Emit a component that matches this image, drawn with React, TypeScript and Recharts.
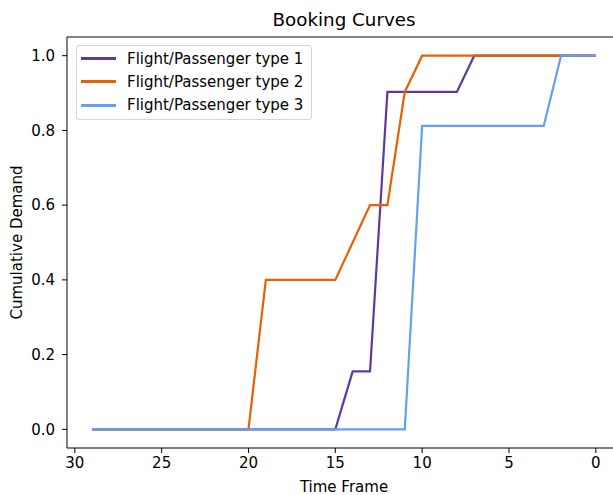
import { Legend, Line, LineChart, ReferenceLine, XAxis, YAxis } from "recharts";

const timeFrame = [29, 28, 27, 26, 25, 24, 23, 22, 21, 20, 19, 18, 17, 16, 15, 14, 13, 12, 11, 10, 9, 8, 7, 6, 5, 4, 3, 2, 1, 0];

const type1 = [0, 0, 0, 0, 0, 0, 0, 0, 0, 0, 0, 0, 0, 0, 0, 0.155, 0.155, 0.903, 0.903, 0.903, 0.903, 0.903, 1, 1, 1, 1, 1, 1, 1, 1];
const type2 = [0, 0, 0, 0, 0, 0, 0, 0, 0, 0, 0.4, 0.4, 0.4, 0.4, 0.4, 0.5, 0.6, 0.6, 0.903, 1, 1, 1, 1, 1, 1, 1, 1, 1, 1, 1];
const type3 = [0, 0, 0, 0, 0, 0, 0, 0, 0, 0, 0, 0, 0, 0, 0, 0, 0, 0, 0, 0.812, 0.812, 0.812, 0.812, 0.812, 0.812, 0.812, 0.812, 1, 1, 1];

const xTicks = [30, 25, 20, 15, 10, 5, 0];
const yTicks = [0, 0.2, 0.4, 0.6, 0.8, 1.0];

const seriesNames = ["Flight/Passenger type 1", "Flight/Passenger type 2", "Flight/Passenger type 3"];
const seriesColors = ["#5D3A9B", "#E66100", "#64A0F0"];

const data = timeFrame.map((t, i) => ({
  t,
  s1: type1[i],
  s2: type2[i],
  s3: type3[i],
}));

const font = "'DejaVu Sans', sans-serif";

function LegendBox() {
  return (
    <div
      style={{
        width: 234,
        height: 72,
        border: "1px solid #d6d6d6",
        borderRadius: 3,
        background: "rgba(255,255,255,0.8)",
        fontFamily: font,
        fontSize: 15,
        color: "#000",
        paddingTop: 1,
        boxSizing: "content-box",
      }}
    >
      {seriesNames.map((name, i) => (
        <div key={name} style={{ display: "flex", alignItems: "center", height: 23.3 }}>
          <div style={{ width: 35, height: 3, background: seriesColors[i], marginLeft: 4, marginRight: 11 }} />
          <span style={{ whiteSpace: "nowrap" }}>{name}</span>
        </div>
      ))}
    </div>
  );
}

export default function App() {
  return (
    <div style={{ width: 613, height: 495, overflow: "hidden", position: "relative", background: "#fff" }}>
      <style>{"body{margin:0;overflow:hidden}"}</style>
      <div
        style={{
          position: "absolute",
          top: 9,
          left: 0,
          width: 688,
          textAlign: "center",
          fontFamily: font,
          fontSize: 18.3,
          color: "#000",
        }}
      >
        Booking Curves
      </div>
      <LineChart width={613} height={495} data={data} margin={{ top: 37, right: -8, left: 0, bottom: 0 }}>
        <XAxis
          dataKey="t"
          type="number"
          domain={[-1.45, 30.45]}
          reversed
          ticks={xTicks}
          allowDataOverflow
          height={47}
          stroke="#000"
          tickSize={5}
          tickMargin={4}
          tick={{ fill: "#000", fontSize: 15, fontFamily: font }}
          label={{ value: "Time Frame", position: "insideBottom", offset: 3, fill: "#000", fontSize: 15, fontFamily: font }}
        />
        <YAxis
          type="number"
          domain={[-0.05, 1.05]}
          ticks={yTicks}
          allowDataOverflow
          width={67}
          stroke="#000"
          axisLine={false}
          tickSize={5}
          tickMargin={7}
          tickFormatter={(v: number) => v.toFixed(1)}
          tick={{ fill: "#000", fontSize: 15, fontFamily: font }}
          label={{
            value: "Cumulative Demand",
            angle: -90,
            position: "insideLeft",
            offset: 0,
            dx: 17,
            style: { textAnchor: "middle" },
            fill: "#000",
            fontSize: 15,
            fontFamily: font,
          }}
        />
        <ReferenceLine y={1.05} stroke="#000" ifOverflow="visible" />
        <ReferenceLine x={30.45} stroke="#000" ifOverflow="visible" />
        <Line dataKey="s1" name={seriesNames[0]} stroke={seriesColors[0]} strokeWidth={2.2} dot={false} isAnimationActive={false} />
        <Line dataKey="s2" name={seriesNames[1]} stroke={seriesColors[1]} strokeWidth={2.2} dot={false} isAnimationActive={false} />
        <Line dataKey="s3" name={seriesNames[2]} stroke={seriesColors[2]} strokeWidth={2.2} dot={false} isAnimationActive={false} />
        <Legend
          layout="vertical"
          align="center"
          verticalAlign="middle"
          wrapperStyle={{ top: 45, left: 76, width: "auto" }}
          content={() => <LegendBox />}
        />
      </LineChart>
    </div>
  );
}
